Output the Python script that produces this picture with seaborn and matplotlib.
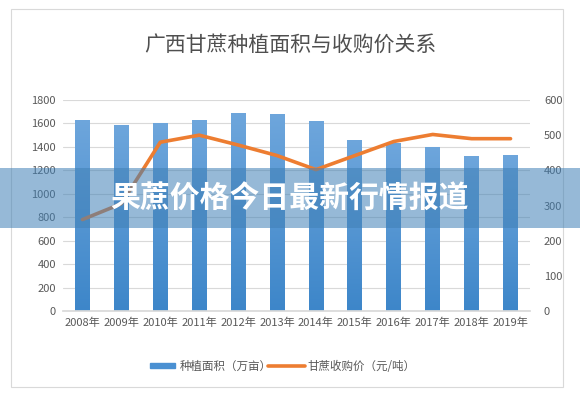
import matplotlib
matplotlib.use('Agg')
import matplotlib.pyplot as plt
import seaborn as sns
import pandas as pd
import numpy as np
from matplotlib.patches import Rectangle
from matplotlib.colors import LinearSegmentedColormap

# data
years = ['2008年', '2009年', '2010年', '2011年', '2012年', '2013年',
         '2014年', '2015年', '2016年', '2017年', '2018年', '2019年']
area = [1630, 1590, 1600, 1630, 1690, 1680, 1620, 1460, 1430, 1400, 1320, 1330]
price = [260, 305, 480, 500, 472, 442, 402, 442, 482, 502, 490, 490]

df = pd.DataFrame({'year': years, 'area': area, 'price': price})

sns.set_theme(style='white')
plt.rcParams['font.family'] = ['Noto Sans CJK SC', 'DejaVu Sans']

txt = '#595959'
fig = plt.figure(figsize=(5.8, 3.97), dpi=100)
fig.patch.set_facecolor('white')

# chart frame
fig.patches.append(Rectangle((11 / 580, 1 - 387 / 397), 552 / 580, 378 / 397,
                             transform=fig.transFigure, fill=False,
                             edgecolor='#d9d9d9', lw=0.8, zorder=0))

ax = fig.add_axes([63 / 580, 1 - 311 / 397, 467 / 580, 211 / 397])
sns.barplot(data=df, x='year', y='area', color='#4a90d2', width=0.38,
            saturation=1, ax=ax, zorder=2)
ax.set_ylim(0, 1800)
ax.set_xlim(-0.5, 11.5)

# gradient fill of bars (lighter on top)
cmap = LinearSegmentedColormap.from_list('bar', ['#3d86c9', '#6ea6dc'])
grad = np.linspace(0, 1, 256).reshape(-1, 1)
for p in list(ax.patches):
    x0, y0 = p.get_x(), p.get_y()
    w, h = p.get_width(), p.get_height()
    im = ax.imshow(grad, cmap=cmap, origin='lower', aspect='auto',
                   extent=[x0, x0 + w, y0, y0 + h], zorder=2)
    im.set_clip_path(p)
    p.set_facecolor('none')
    p.set_edgecolor('none')
ax.set_xlim(-0.5, 11.5)
ax.set_ylim(0, 1800)

ax.set_yticks(range(0, 1801, 200))
ax.yaxis.grid(True, color='#d9d9d9', lw=0.8)
ax.set_axisbelow(True)
for s in ['top', 'right', 'left']:
    ax.spines[s].set_visible(False)
ax.spines['bottom'].set_color('#d9d9d9')
ax.set_xlabel('')
ax.set_ylabel('')
ax.tick_params(axis='both', labelsize=8, colors=txt, length=0, pad=5)
ax.set_xticks([i + 0.5 for i in range(-1, 12)], minor=True)
ax.tick_params(axis='x', which='minor', length=5, color='#d9d9d9', width=0.8)

ax2 = ax.twinx()
sns.lineplot(x=list(range(len(years))), y=price, color='#ed7d31', lw=2.6,
             ax=ax2, zorder=3)
ax2.set_ylim(0, 600)
ax2.set_yticks(range(0, 601, 100))
for s in ax2.spines.values():
    s.set_visible(False)
ax2.tick_params(axis='y', labelsize=8, colors=txt, length=0, pad=10)
ax2.set_ylabel('')

fig.text(0.5, 1 - 45 / 397, '广西甘蔗种植面积与收购价关系', ha='center', va='center',
         fontsize=15, color='#4f4f4f')

# legend
fig.patches.append(Rectangle((150 / 580, 1 - 368 / 397), 25 / 580, 5 / 397,
                             transform=fig.transFigure, color='#4a90d2'))
fig.text(180 / 580, 1 - 366 / 397, '种植面积（万亩）', va='center', fontsize=8.3, color=txt)
fig.lines.append(plt.Line2D([268 / 580, 305 / 580], [1 - 366 / 397] * 2,
                            transform=fig.transFigure, color='#ed7d31', lw=2.6))
fig.text(307 / 580, 1 - 366 / 397, '甘蔗收购价（元/吨）', va='center', fontsize=8.3, color=txt)

# overlay banner
fig.patches.append(Rectangle((0, 1 - 228 / 397), 1, 60 / 397, transform=fig.transFigure,
                             facecolor=(64 / 255, 128 / 255, 182 / 255), edgecolor='none',
                             lw=0, alpha=0.55, zorder=5))
fig.text(290 / 580, 1 - 199 / 397, '果蔗价格今日最新行情报道', ha='center', va='center',
         fontsize=21.5, fontweight='bold', color='white', zorder=6)

fig.savefig('out.png', dpi=100)
